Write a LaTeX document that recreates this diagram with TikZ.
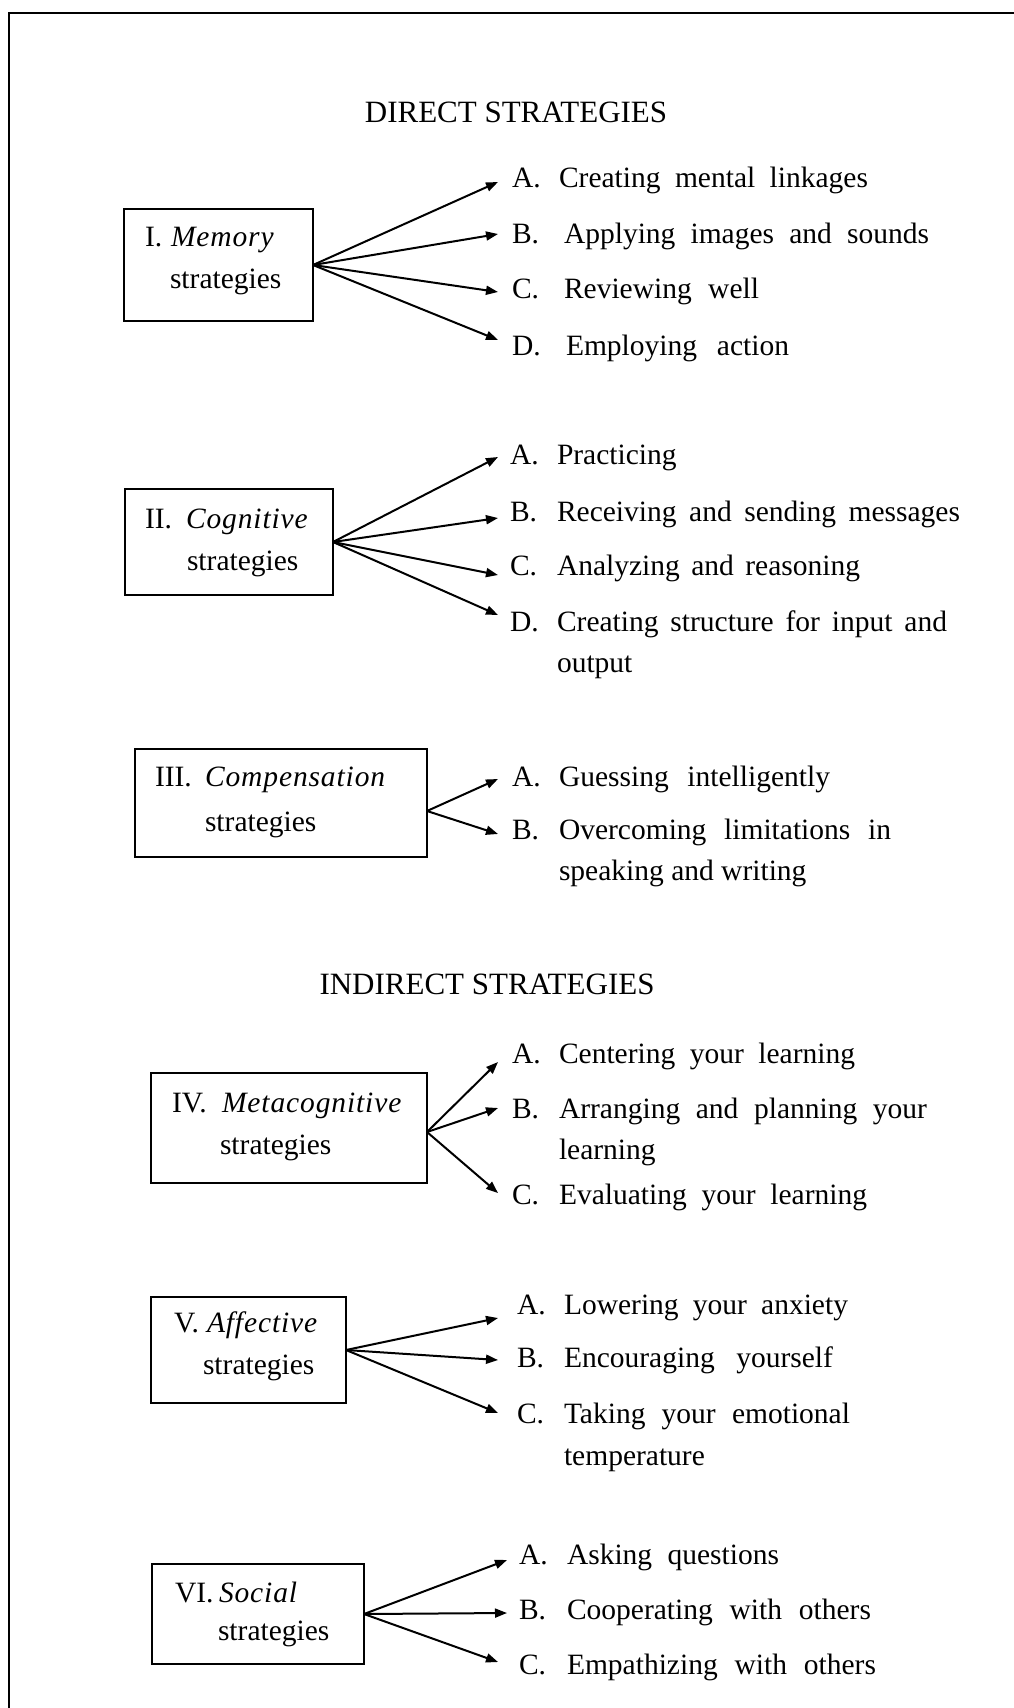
\documentclass[tikz,border=0pt]{standalone}
\usepackage{fontspec}
\setmainfont{Liberation Serif}
\usetikzlibrary{arrows.meta}
\newcommand\bfnt{\fontsize{29.5}{41.5}\selectfont}
\newcommand\boxfnt{\fontsize{29.5}{42}\selectfont}
\newcommand\hdfnt{\fontsize{31}{36}\selectfont}
\newcommand\itl[1]{{\itshape\addfontfeature{LetterSpace=3}#1}}
\newcommand\twol[2]{\begin{tabular}[t]{@{}l@{}}#1\\#2\end{tabular}}
\newcommand\stratitem[7]{%
  \node[lettr] (#1) at (#2,#3) {\makebox[\dimexpr#5pt-#2pt\relax][l]{\hspace*{\dimexpr#4pt-#2pt\relax}#6}};
  \node[bodytxt] (#1t) at (#1.base east) {#7};
}
\begin{document}
\begin{tikzpicture}[x=1pt,y=-1pt,
  stratbox/.style={draw, line width=2pt, anchor=west, outer sep=0pt, inner ysep=0pt, align=left, font=\boxfnt, text depth=56pt},
  lettr/.style={inner sep=0pt, outer sep=0pt, anchor=west, font=\bfnt},
  bodytxt/.style={inner sep=0pt, outer sep=0pt, anchor=base west, font=\bfnt},
  heading/.style={inner sep=0pt, font=\hdfnt},
  arr/.style={line width=2pt, -{Triangle[length=12pt,width=9pt]}},
  frame/.style={line width=2pt}]
\useasboundingbox (0,0) rectangle (1014,1708);
\draw[frame] (9,1708) -- (9,13) -- (1014,13);

% headings
\node[heading] (direct) at (516,112) {DIRECT STRATEGIES};
\node[heading] (indirect) at (487,984) {INDIRECT STRATEGIES};

% boxes
\node[stratbox, text width=147pt, inner xsep=21pt, minimum height=112pt] (mem) at (124,265)
  {\makebox[26pt][l]{I.}\itl{Memory}\\\hspace*{25pt}strategies};
\node[stratbox, text width=168pt, inner xsep=20pt, minimum height=106pt, text depth=47pt] (cog) at (125,542)
  {\makebox[41pt][l]{II.}\itl{Cognitive}\\\hspace*{42pt}strategies};
\node[stratbox, text width=252pt, inner xsep=20pt, minimum height=108pt, text depth=52pt] (comp) at (135,803)
  {\makebox[50pt][l]{III.}\itl{Compensation}\\[3pt]\hspace*{50pt}strategies};
\node[stratbox, text width=234pt, inner xsep=21pt, minimum height=110pt, text depth=50pt] (meta) at (151,1128)
  {\makebox[50pt][l]{IV.}\itl{Metacognitive}\\\hspace*{48pt}strategies};
\node[stratbox, text width=149pt, inner xsep=23pt, minimum height=106pt] (aff) at (151,1350)
  {\makebox[33pt][l]{V.}\itl{Affective}\\\hspace*{29pt}strategies};
\node[stratbox, text width=166pt, inner xsep=23pt, minimum height=100pt, text depth=43pt] (soc) at (152,1614)
  {\makebox[44pt][l]{VI.}\itl{Social}\\[-4pt]\hspace*{43pt}strategies};

% items: Memory
\stratitem{ma}{498}{178}{512}{559}{A.}{\makebox[309pt][s]{Creating mental linkages}}
\stratitem{mb}{498}{234}{512}{564}{B.}{\makebox[365pt][s]{Applying images and sounds}}
\stratitem{mc}{498}{289}{512}{564}{C.}{\makebox[195pt][s]{Reviewing well}}
\stratitem{md}{498}{346}{512}{566}{D.}{\makebox[223pt][s]{Employing action}}
% Cognitive
\stratitem{ca}{498}{455}{510}{557}{A.}{Practicing}
\stratitem{cb}{498}{512}{510}{557}{B.}{\makebox[403pt][s]{Receiving and sending messages}}
\stratitem{cc}{498}{566}{510}{557}{C.}{\makebox[303pt][s]{Analyzing and reasoning}}
\stratitem{cd}{498}{622}{510}{557}{D.}{\twol{\makebox[390pt][s]{Creating structure for input and}}{output}}
% Compensation
\stratitem{pa}{498}{777}{512}{559}{A.}{\makebox[271pt][s]{Guessing intelligently}}
\stratitem{pb}{498}{830}{512}{559}{B.}{\twol{\makebox[332pt][s]{Overcoming limitations in}}{speaking and writing}}
% Metacognitive
\stratitem{ta}{498}{1054}{512}{559}{A.}{\makebox[296pt][s]{Centering your learning}}
\stratitem{tb}{498}{1109}{512}{559}{B.}{\twol{\makebox[368pt][s]{Arranging and planning your}}{learning}}
\stratitem{tc}{498}{1195}{512}{559}{C.}{\makebox[308pt][s]{Evaluating your learning}}
% Affective
\stratitem{fa}{498}{1305}{517}{564}{A.}{\makebox[284pt][s]{Lowering your anxiety}}
\stratitem{fb}{498}{1358}{517}{564}{B.}{\makebox[269pt][s]{Encouraging yourself}}
\stratitem{fc}{498}{1414}{517}{564}{C.}{\twol{\makebox[286pt][s]{Taking your emotional}}{temperature}}
% Social
\stratitem{sa}{507}{1555}{519}{567}{A.}{\makebox[212pt][s]{Asking questions}}
\stratitem{sb}{507}{1610}{519}{567}{B.}{\makebox[304pt][s]{Cooperating with others}}
\stratitem{sc}{498}{1665}{519}{567}{C.}{\makebox[309pt][s]{Empathizing with others}}

% arrows
\draw[arr] (mem.east) -- ([yshift=-4pt]ma.west);
\draw[arr] (mem.east) -- (mb.west);
\draw[arr] (mem.east) -- ([yshift=-3pt]mc.west);
\draw[arr] (mem.east) -- ([yshift=6pt]md.west);

\draw[arr] (cog.east) -- ([yshift=-2pt]ca.west);
\draw[arr] (cog.east) -- ([yshift=-6pt]cb.west);
\draw[arr] (cog.east) -- ([yshift=-9pt]cc.west);
\draw[arr] (cog.east) -- ([yshift=7pt]cd.west);

\draw[arr] ([yshift=-8pt]comp.east) -- ([yshift=-2pt]pa.west);
\draw[arr] ([yshift=-8pt]comp.east) -- ([yshift=-4pt]pb.west);

\draw[arr] ([yshift=-4pt]meta.east) -- ([yshift=-8pt]ta.west);
\draw[arr] ([yshift=-4pt]meta.east) -- ([yshift=1pt]tb.west);
\draw[arr] ([yshift=-4pt]meta.east) -- ([yshift=2pt]tc.west);

\draw[arr] (aff.east) -- ([yshift=-13pt]fa.west);
\draw[arr] (aff.east) -- ([yshift=-2pt]fb.west);
\draw[arr] (aff.east) -- ([yshift=1pt]fc.west);

\draw[arr] (soc.east) -- ([yshift=-5pt]sa.west);
\draw[arr] (soc.east) -- ([yshift=-3pt]sb.west);
\draw[arr] (soc.east) -- ([yshift=3pt]sc.west);
\end{tikzpicture}
\end{document}
